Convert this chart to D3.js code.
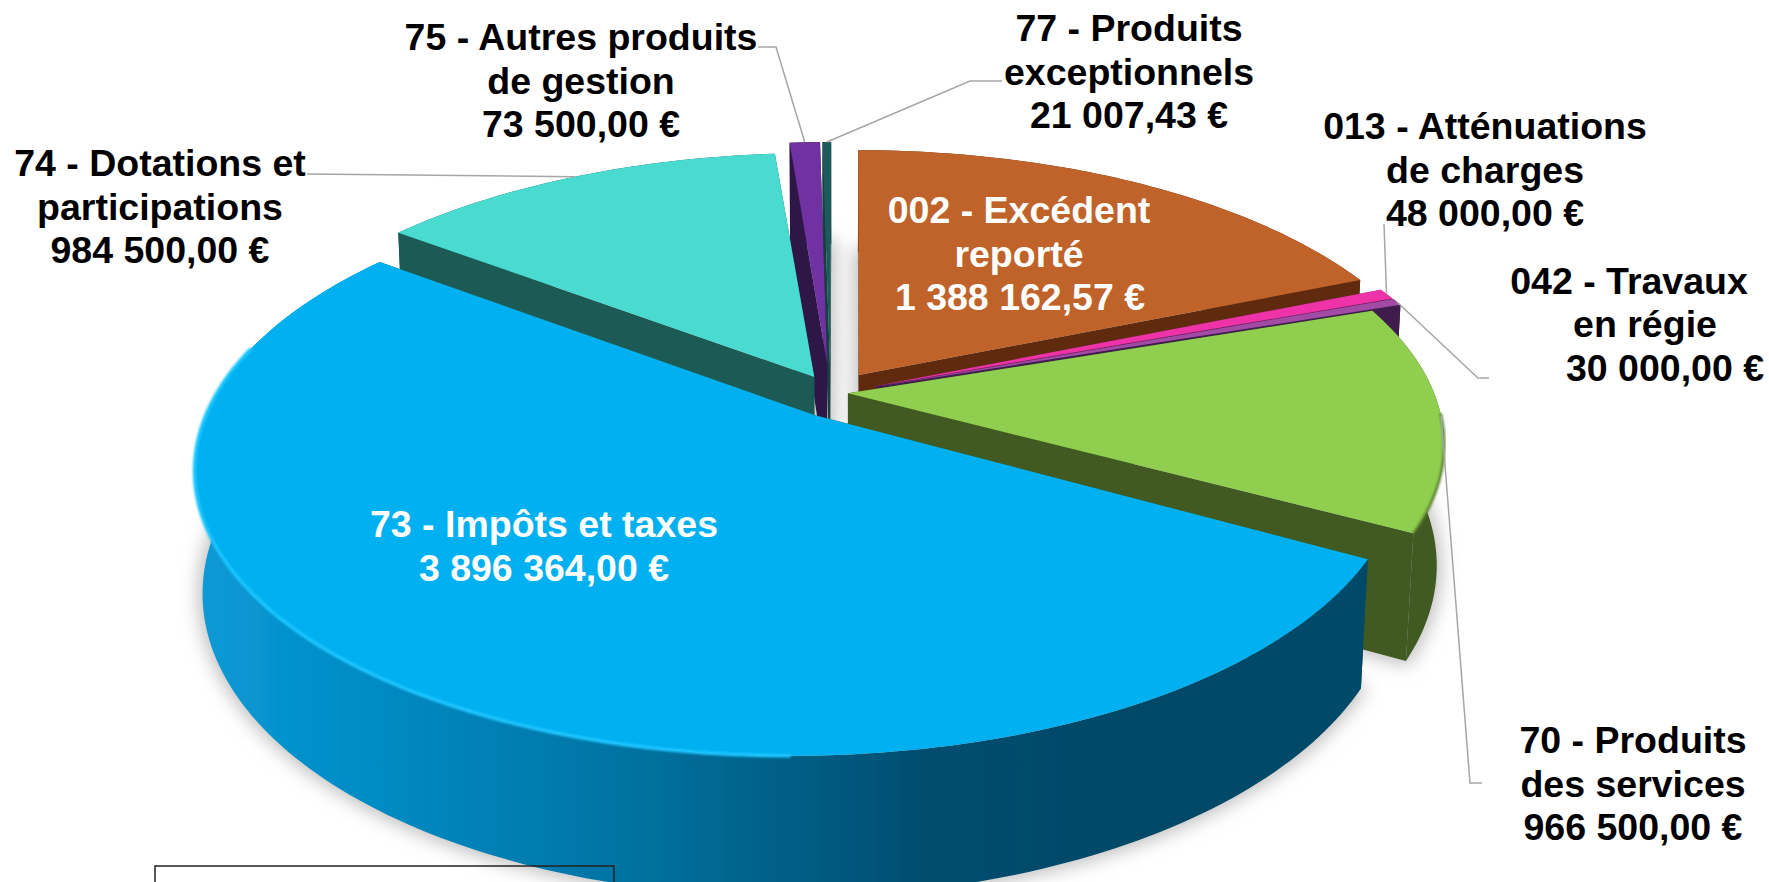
<!DOCTYPE html>
<html lang="fr"><head><meta charset="utf-8">
<style>html,body{margin:0;background:#fff}svg{display:block}text{font-family:"Liberation Sans",Arial,sans-serif;font-weight:700;font-size:37.5px;text-anchor:middle}</style>
<script src="https://d3js.org/d3.v7.min.js"></script></head><body>
<script>
// Data
const categories = ["002 - Excédent reporté","013 - Atténuations de charges","042 - Travaux en régie","70 - Produits des services","73 - Impôts et taxes","74 - Dotations et participations","75 - Autres produits de gestion","77 - Produits exceptionnels"];
const values = [1388162.57,48000,30000,966500,3896364,984500,73500,21007.43];
const labelLines = [
 ["002 - Excédent","reporté","1 388 162,57 €"],
 ["013 - Atténuations","de charges","48 000,00 €"],
 ["042 - Travaux","en régie","30 000,00 €"],
 ["70 - Produits","des services","966 500,00 €"],
 ["73 - Impôts et taxes","3 896 364,00 €"],
 ["74 - Dotations et","participations","984 500,00 €"],
 ["75 - Autres produits","de gestion","73 500,00 €"],
 ["77 - Produits","exceptionnels","21 007,43 €"]];
// Styles
const topColors = ["#c0632a","#ee33a8","#a24ba5","#8fce4f","#00b0f0","#4adbd0","#7030a0","#1f5a5c"];
const sideColors = ["#5e2c10","#7a1f5e","#3f1f4d","#3f5a22","url(#blueWall)","#1d5a54","#2e1547","#16403f"];
const labelColors = ["#fff","#000","#000","#000","#fff","#000","#000","#000"];
// how far each slice is pulled out of the pie (pie-radius units)
const shiftX = [.041,.072,.074,.019,-.065,-.048,-.019,-.014];
const shiftY = [.067,.026,.024,-.001,-.08,.052,.11,.11];
const apexShiftX = [.036,.065,.066,.017,-.04,-.041,-.019,-.014];
const apexShiftY = [.067,.026,.024,-.001,-.08,.06,.11,.11];
const drawOrder = [7,6,0,5,1,2,3,4];
// layout: label line centres [x per line], first baseline, leader elbows
const labelX = [[1019,1019,1020],[1485,1485,1485],[1629,1645,1665],[1633,1633,1633],[544,544],[160,160,160],[581,581,581],[1129,1129,1129]];
const labelY = [223,139,293.5,753,537,176,50,41];
const lineH = 43.5;
const leaders = [null,[[1384,224]],[[1478,378],[1489,378]],[[1470,783],[1482,783]],null,[[307,174]],[[776,47],[758,47]],[[970,81],[1002,81]]];
const W=1769,H=882;
const cx=838,cy=393,B=585,A=271,K=120,p=.179,q=.012;
const sx=d3.scaleLinear().domain([-1,1]).range([cx-B,cx+B]);
const sy=d3.scaleLinear().domain([-1,1]).range([cy+A,cy-A]);
const svg=d3.select("body").append("svg").attr("width",W).attr("height",H).attr("viewBox",`0 0 ${W} ${H}`);
const defs=svg.append("defs");
const f=defs.append("filter").attr("id","sh").attr("x","-20%").attr("y","-20%").attr("width","140%").attr("height","140%");
f.append("feGaussianBlur").attr("stdDeviation",9);
const f2=defs.append("filter").attr("id","soft").attr("x","-5%").attr("y","-5%").attr("width","110%").attr("height","110%");
f2.append("feGaussianBlur").attr("stdDeviation",1.2);
const f3=defs.append("filter").attr("id","aa").attr("x","-5%").attr("y","-5%").attr("width","110%").attr("height","110%");
f3.append("feGaussianBlur").attr("stdDeviation",.6);
const g0=defs.append("linearGradient").attr("id","blueWall").attr("gradientUnits","userSpaceOnUse").attr("x1",195).attr("x2",1370).attr("y1",0).attr("y2",0);
[[0,"#0a9ad6"],[.18,"#0088c0"],[.35,"#0075a5"],[.5,"#005f86"],[.62,"#004e70"],[.8,"#004866"],[1,"#004a68"]].forEach(s=>g0.append("stop").attr("offset",s[0]).attr("stop-color",s[1]));

const arcs=d3.pie().sort(null).value(d=>d)(values);
function pt(i,theta,r,z,apex){
  const X=r*Math.sin(theta)+(apex?apexShiftX:shiftX)[i],Y=r*Math.cos(theta)+(apex?apexShiftY:shiftY)[i];
  const den=1+p*Y+q*z;
  return [sx(X/den),sy((Y-K/A*z)/den)];
}
const line=d3.line();
function thetas(a,b){const n=Math.max(2,Math.ceil((b-a)/.02));return d3.range(n+1).map(k=>a+(b-a)*k/n);}
function topPath(d,i,z){return line([pt(i,0,0,z,true),...thetas(d.startAngle,d.endAngle).map(t=>pt(i,t,1,z))])+"Z";}
function wallPath(d,i){const ts=thetas(d.startAngle,d.endAngle);return line([...ts.map(t=>pt(i,t,1,0)),...ts.slice().reverse().map(t=>pt(i,t,1,1))])+"Z";}
function radial(i,t){return line([pt(i,0,0,0,true),pt(i,t,1,0),pt(i,t,1,1),pt(i,0,0,1,true)])+"Z";}
function rim(i,a,b){return line(thetas(a,b).map(t=>pt(i,t,1,0)));}

// shadow
const sh=svg.append("g").attr("filter","url(#sh)").attr("fill","#bdbdbd").attr("stroke","#bdbdbd").attr("stroke-width",8);
arcs.forEach((d,i)=>sh.append("path").attr("d",topPath(d,i,1)));

const pie=svg.append("g").attr("filter","url(#aa)");
drawOrder.forEach(i=>{
  const d=arcs[i],g=pie.append("g");
  g.append("path").attr("d",radial(i,d.startAngle)).attr("fill",sideColors[i===4?3:i]);
  g.append("path").attr("d",radial(i,d.endAngle)).attr("fill",sideColors[i===4?3:i]);
  g.append("path").attr("d",wallPath(d,i)).attr("fill",sideColors[i]);
  g.append("path").attr("d",topPath(d,i,0)).attr("fill",topColors[i]);
});
// rim highlights
const green=arcs[3];
pie.append("path").attr("d",rim(4,Math.PI*1.0,Math.PI*1.58)).attr("fill","none").attr("stroke","#1ac6ff").attr("stroke-width",3.5).attr("filter","url(#soft)");
pie.append("path").attr("d",rim(3,green.startAngle+.4,green.endAngle)).attr("fill","none").attr("stroke","#5d8133").attr("stroke-width",2.5).attr("filter","url(#soft)");

// outlined box
svg.append("rect").attr("x",155).attr("y",866).attr("width",459).attr("height",40).attr("fill","none").attr("stroke","#222").attr("stroke-width",1.5);

// leaders
const lg=svg.append("g").attr("fill","none").attr("stroke","#a6a6a6").attr("stroke-width",1.5);
leaders.forEach((l,i)=>{ if(!l) return; const d=arcs[i];
  lg.append("path").attr("d",line([pt(i,(d.startAngle+d.endAngle)/2,1,0),...l])); });

// labels
labelLines.forEach((ls,i)=>{
  const t=svg.append("text").attr("fill",labelColors[i]);
  ls.forEach((s,k)=>t.append("tspan").attr("x",labelX[i][k]).attr("y",labelY[i]+k*lineH).text(s));
});
</script></body></html>
